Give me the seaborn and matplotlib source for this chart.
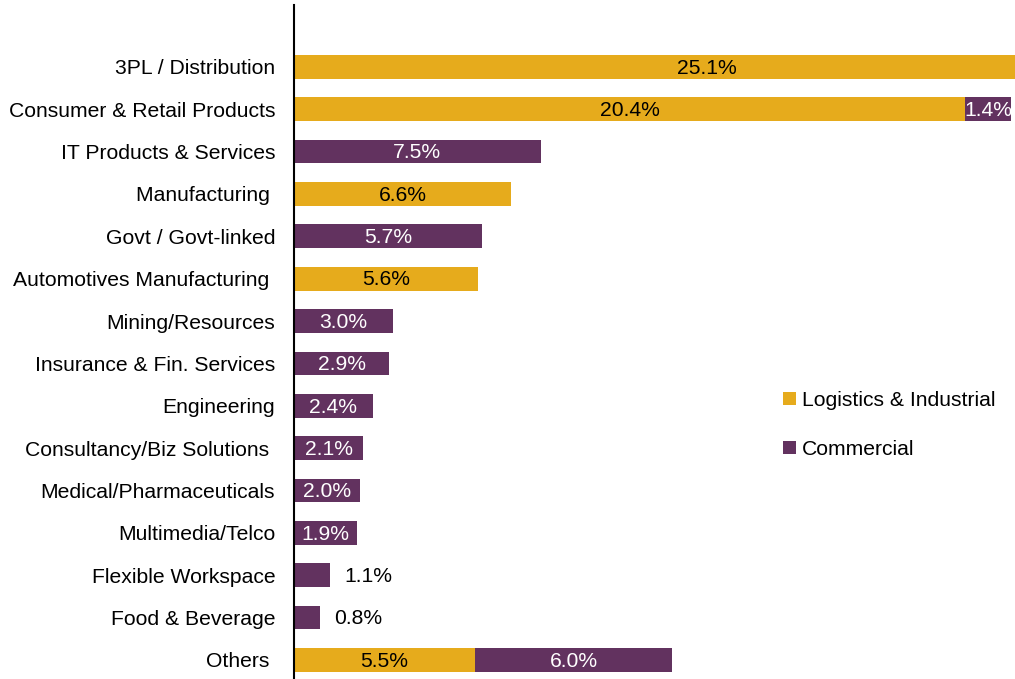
import matplotlib
matplotlib.use("Agg")
import matplotlib.pyplot as plt
import seaborn as sns
import pandas as pd
from matplotlib.patches import Patch

categories = ["3PL / Distribution", "Consumer & Retail Products", "IT Products & Services",
              "Manufacturing ", "Govt / Govt-linked", "Automotives Manufacturing ",
              "Mining/Resources", "Insurance & Fin. Services", "Engineering",
              "Consultancy/Biz Solutions ", "Medical/Pharmaceuticals", "Multimedia/Telco",
              "Flexible Workspace", "Food & Beverage", "Others "]
logistics = [25.1, 20.4, 0, 6.6, 0, 5.6, 0, 0, 0, 0, 0, 0, 0, 0, 5.5]
commercial = [0, 1.4, 7.5, 0, 5.7, 0, 3.0, 2.9, 2.4, 2.1, 2.0, 1.9, 1.1, 0.8, 6.0]
series_names = ["Logistics & Industrial", "Commercial"]
outside_labels = ["Flexible Workspace", "Food & Beverage"]

GOLD = "#E6AB1C"
PURPLE = "#62325F"

sns.set_style("white")
plt.rcParams["font.family"] = ["Liberation Sans", "DejaVu Sans"]
plt.rcParams["text.color"] = "black"
plt.rcParams["ytick.color"] = "black"
plt.rcParams["ytick.labelcolor"] = "black"
FS = 15.2

df = pd.DataFrame({"cat": categories, "log": logistics, "com": commercial})
df["total"] = df["log"] + df["com"]

fig = plt.figure(figsize=(10.15, 6.79), dpi=100)
ax = fig.add_axes([294 / 1015, 0.0, 1 - 294 / 1015, 1 - 5 / 679])

sns.barplot(data=df, y="cat", x="total", color=PURPLE, width=0.56, orient="h",
            ax=ax, saturation=1, linewidth=0, order=categories)
sns.barplot(data=df, y="cat", x="log", color=GOLD, width=0.56, orient="h",
            ax=ax, saturation=1, linewidth=0, order=categories)

ax.set_xlim(0, 721 / 32.9)
ax.set_ylim(14.45, -1.46)

for i, cat in enumerate(categories):
    lv, cv = logistics[i], commercial[i]
    if lv > 0:
        ax.text(lv / 2, i + 0.03, f"{lv:.1f}%", ha="center", va="center", fontsize=FS, color="black")
    if cv > 0:
        if cat in outside_labels:
            ax.text(lv + cv + 0.42, i + 0.03, f"{cv:.1f}%", ha="left", va="center", fontsize=FS, color="black")
        else:
            ax.text(lv + cv / 2, i + 0.03, f"{cv:.1f}%", ha="center", va="center", fontsize=FS, color="white")

ax.set_xlabel("")
ax.set_ylabel("")
ax.set_xticks([])
ax.tick_params(axis="y", length=0, pad=13.5, labelsize=FS, labelcolor="black")
for s in ["top", "right", "bottom"]:
    ax.spines[s].set_visible(False)
ax.spines["left"].set_color("black")
ax.spines["left"].set_linewidth(1.5)

handles = [Patch(facecolor=GOLD, edgecolor="none"), Patch(facecolor=PURPLE, edgecolor="none")]
fig.legend(handles, series_names, loc="center left", bbox_to_anchor=(777 / 1015, 1 - 425 / 679),
           frameon=False, fontsize=FS, handlelength=0.6, handleheight=0.6,
           handletextpad=0.3, labelspacing=1.4, borderaxespad=0, borderpad=0.3)

fig.savefig("out.png", dpi=100)
